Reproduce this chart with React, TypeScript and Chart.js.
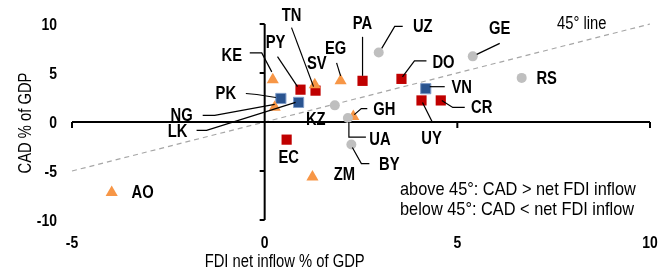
import React, { useEffect, useRef } from "react";
import { Chart, registerables } from "chart.js";

Chart.register(...registerables);

// ---- data ----
const redCodes = ["PY", "TN", "PA", "DO", "UY", "CR", "EC"];
const redX = [0.93, 1.32, 2.54, 3.55, 4.07, 4.57, 0.57];
const redY = [3.3, 3.2, 4.2, 4.4, 2.2, 2.2, -1.8];

const orangeCodes = ["KE", "SV", "EG", "NG", "GH", "ZM", "AO"];
const orangeX = [0.21, 1.3, 1.97, 0.26, 2.3, 1.24, -3.97];
const orangeY = [4.3, 3.8, 4.2, 1.5, 0.55, -5.6, -7.2];

const blueCodes = ["PK", "LK", "VN"];
const blueX = [0.42, 0.88, 4.18];
const blueY = [2.4, 2.0, 3.4];

const grayCodes = ["KZ", "UZ", "GE", "RS", "UA", "BY"];
const grayX = [1.82, 2.96, 5.4, 6.67, 2.16, 2.25];
const grayY = [1.7, 7.1, 6.7, 4.5, 0.4, -2.3];

const xTicks = [-5, 0, 5, 10];
const yTicks = [-10, -5, 0, 5, 10];
const xTitle = "FDI net inflow % of GDP";
const yTitle = "CAD % of GDP";
const lineLabel = "45° line";
const noteLines = ["above 45°: CAD > net FDI inflow", "below 45°: CAD < net FDI inflow"];

// ---- label placement (pixel offsets from the point) ----
type Callout = { label: [number, number]; path?: [number, number][] };
const callouts: Record<string, Callout> = {
  KE: { label: [-41, -25], path: [[-23, -27], [-11, -27], [-1, -8]] },
  PY: { label: [-25, -48], path: [[-23, -33], [-3, -3]] },
  SV: { label: [2, -22] },
  TN: { label: [-24, -76], path: [[-24, -63], [-2, -4]] },
  EG: { label: [-5, -33], path: [[-4, -18], [0, -5]] },
  PA: { label: [0, -58], path: [[0, -44], [0, -5]] },
  UZ: { label: [44, -26], path: [[24, -26], [16, -26], [3, -4]] },
  GE: { label: [27, -28], path: [[27, -13], [4, -2]] },
  DO: { label: [42, -17], path: [[25, -18], [13, -18], [1, -2]] },
  RS: { label: [25, 0] },
  VN: { label: [36, -2], path: [[19, -2], [4, -2]] },
  CR: { label: [41, 7], path: [[24, 7], [12, 7], [1, 0]] },
  UY: { label: [10, 38], path: [[11, 22], [1, 2]] },
  GH: { label: [31, -8], path: [[14, -8], [8, -8], [1, -2]] },
  UA: { label: [32, 21], path: [[18, 19], [1, 19], [1, 4]] },
  BY: { label: [38, 19], path: [[18, 19], [10, 19], [1, 3]] },
  ZM: { label: [32, -3] },
  EC: { label: [2, 17] },
  PK: { label: [-55, -5], path: [[-35, -5], [-24, -4], [-5, -1]] },
  NG: { label: [-93, 8], path: [[-72, 8], [-60, 8], [0, -3]] },
  LK: { label: [-121, 29], path: [[-102, 28], [-92, 28], [-3, 0]] },
  KZ: { label: [-19, 14] },
  AO: { label: [31, -1] },
};

const FONT = "'Liberation Sans', Arial, sans-serif";
const NARROW = 0.82;

function narrowText(
  ctx: CanvasRenderingContext2D,
  text: string,
  x: number,
  y: number,
  rot = 0,
  sx = NARROW
) {
  ctx.save();
  ctx.translate(x, y);
  if (rot) ctx.rotate(rot);
  ctx.scale(sx, 1);
  ctx.fillText(text, 0, 0);
  ctx.restore();
}

const toPts = (xs: number[], ys: number[]) => xs.map((x, i) => ({ x, y: ys[i] }));

export default function App() {
  const ref = useRef<HTMLCanvasElement | null>(null);

  useEffect(() => {
    if (!ref.current) return;

    const series = [
      { codes: blueCodes, xs: blueX, ys: blueY },
      { codes: redCodes, xs: redX, ys: redY },
      { codes: orangeCodes, xs: orangeX, ys: orangeY },
      { codes: grayCodes, xs: grayX, ys: grayY },
    ];

    const behind = {
      id: "behind",
      beforeDatasetsDraw(chart: any) {
        const ctx = chart.ctx;
        const xs = chart.scales.x;
        const ys = chart.scales.y;
        ctx.save();
        // 45 degree line
        ctx.strokeStyle = "#A6A6A6";
        ctx.lineWidth = 1.2;
        ctx.setLineDash([5, 4]);
        ctx.beginPath();
        ctx.moveTo(xs.getPixelForValue(-5), ys.getPixelForValue(-5));
        ctx.lineTo(xs.getPixelForValue(10), ys.getPixelForValue(10));
        ctx.stroke();
        ctx.setLineDash([]);
        // axes through zero
        const x0 = xs.getPixelForValue(0);
        const y0 = ys.getPixelForValue(0);
        ctx.strokeStyle = "#000";
        ctx.lineWidth = 2;
        ctx.beginPath();
        ctx.moveTo(x0, ys.getPixelForValue(10));
        ctx.lineTo(x0, ys.getPixelForValue(-10));
        ctx.moveTo(xs.getPixelForValue(-5), y0);
        ctx.lineTo(xs.getPixelForValue(10), y0);
        for (const t of yTicks) {
          const p = ys.getPixelForValue(t);
          ctx.moveTo(x0 - 5, p);
          ctx.lineTo(x0, p);
        }
        for (const t of xTicks) {
          const p = xs.getPixelForValue(t);
          ctx.moveTo(p, y0);
          ctx.lineTo(p, y0 + 6);
        }
        ctx.stroke();
        ctx.restore();
      },
      afterDatasetsDraw(chart: any) {
        const ctx = chart.ctx as CanvasRenderingContext2D;
        const xs = chart.scales.x;
        const ys = chart.scales.y;
        const area = chart.chartArea;
        ctx.save();
        // leader lines
        ctx.strokeStyle = "#000";
        ctx.lineWidth = 1.2;
        for (const s of series) {
          s.codes.forEach((c, i) => {
            const co = callouts[c];
            if (!co || !co.path) return;
            const px = xs.getPixelForValue(s.xs[i]);
            const py = ys.getPixelForValue(s.ys[i]);
            ctx.beginPath();
            co.path.forEach(([dx, dy], k) => {
              if (k === 0) ctx.moveTo(px + dx, py + dy);
              else ctx.lineTo(px + dx, py + dy);
            });
            ctx.stroke();
          });
        }
        // point labels
        ctx.fillStyle = "#000";
        ctx.font = `bold 18px ${FONT}`;
        ctx.textAlign = "center";
        ctx.textBaseline = "middle";
        for (const s of series) {
          s.codes.forEach((c, i) => {
            const co = callouts[c];
            if (!co) return;
            const px = xs.getPixelForValue(s.xs[i]);
            const py = ys.getPixelForValue(s.ys[i]);
            narrowText(ctx, c, px + co.label[0], py + co.label[1] + 1);
          });
        }
        // tick labels
        ctx.font = `bold 17px ${FONT}`;
        ctx.textAlign = "right";
        for (const t of yTicks) {
          narrowText(ctx, String(t), area.left - 15, ys.getPixelForValue(t) + 1);
        }
        ctx.textAlign = "center";
        for (const t of xTicks) {
          narrowText(ctx, String(t), xs.getPixelForValue(t), area.bottom + 23);
        }
        // titles
        ctx.font = `18px ${FONT}`;
        narrowText(ctx, xTitle, xs.getPixelForValue(0) + 20, area.bottom + 42);
        narrowText(ctx, yTitle, 26, (area.top + area.bottom) / 2 + 1, -Math.PI / 2);
        ctx.textAlign = "left";
        narrowText(ctx, lineLabel, area.right - 93, area.top);
        ctx.font = `19px ${FONT}`;
        narrowText(ctx, noteLines[0], area.right - 250, area.bottom - 30, 0, 0.86);
        narrowText(ctx, noteLines[1], area.right - 250, area.bottom - 10, 0, 0.86);
        ctx.restore();
      },
    };

    const chart = new Chart(ref.current, {
      type: "scatter",
      data: {
        datasets: [
          {
            data: toPts(grayX, grayY),
            pointStyle: "circle",
            pointRadius: 5,
            backgroundColor: "#BFBFBF",
            borderColor: "#BFBFBF",
            borderWidth: 0,
          },
          {
            data: toPts(orangeX, orangeY),
            pointStyle: "triangle",
            pointRadius: 7,
            backgroundColor: "#F79646",
            borderColor: "#F79646",
            borderWidth: 0,
          },
          {
            data: toPts(redX, redY),
            pointStyle: "rect",
            pointRadius: 7.2,
            backgroundColor: "#C00000",
            borderColor: "#C00000",
            borderWidth: 0,
          },
          {
            data: toPts(blueX, blueY),
            pointStyle: "rect",
            pointRadius: 7.2,
            backgroundColor: "#2A5490",
            borderColor: "#7F9CC8",
            borderWidth: 1,
          },
        ],
      },
      options: {
        responsive: false,
        animation: false,
        layout: { padding: { left: 72, right: 19, top: 24, bottom: 50 } },
        plugins: { legend: { display: false }, tooltip: { enabled: false } },
        scales: {
          x: { type: "linear", min: -5, max: 10, display: false },
          y: { type: "linear", min: -10, max: 10, display: false },
        },
      },
      plugins: [behind],
    });

    return () => chart.destroy();
  }, []);

  return (
    <div style={{ position: "fixed", left: 0, top: 0, width: 669, height: 270, background: "#fff" }}>
      <canvas ref={ref} width={669} height={270} style={{ width: 669, height: 270 }} />
    </div>
  );
}
